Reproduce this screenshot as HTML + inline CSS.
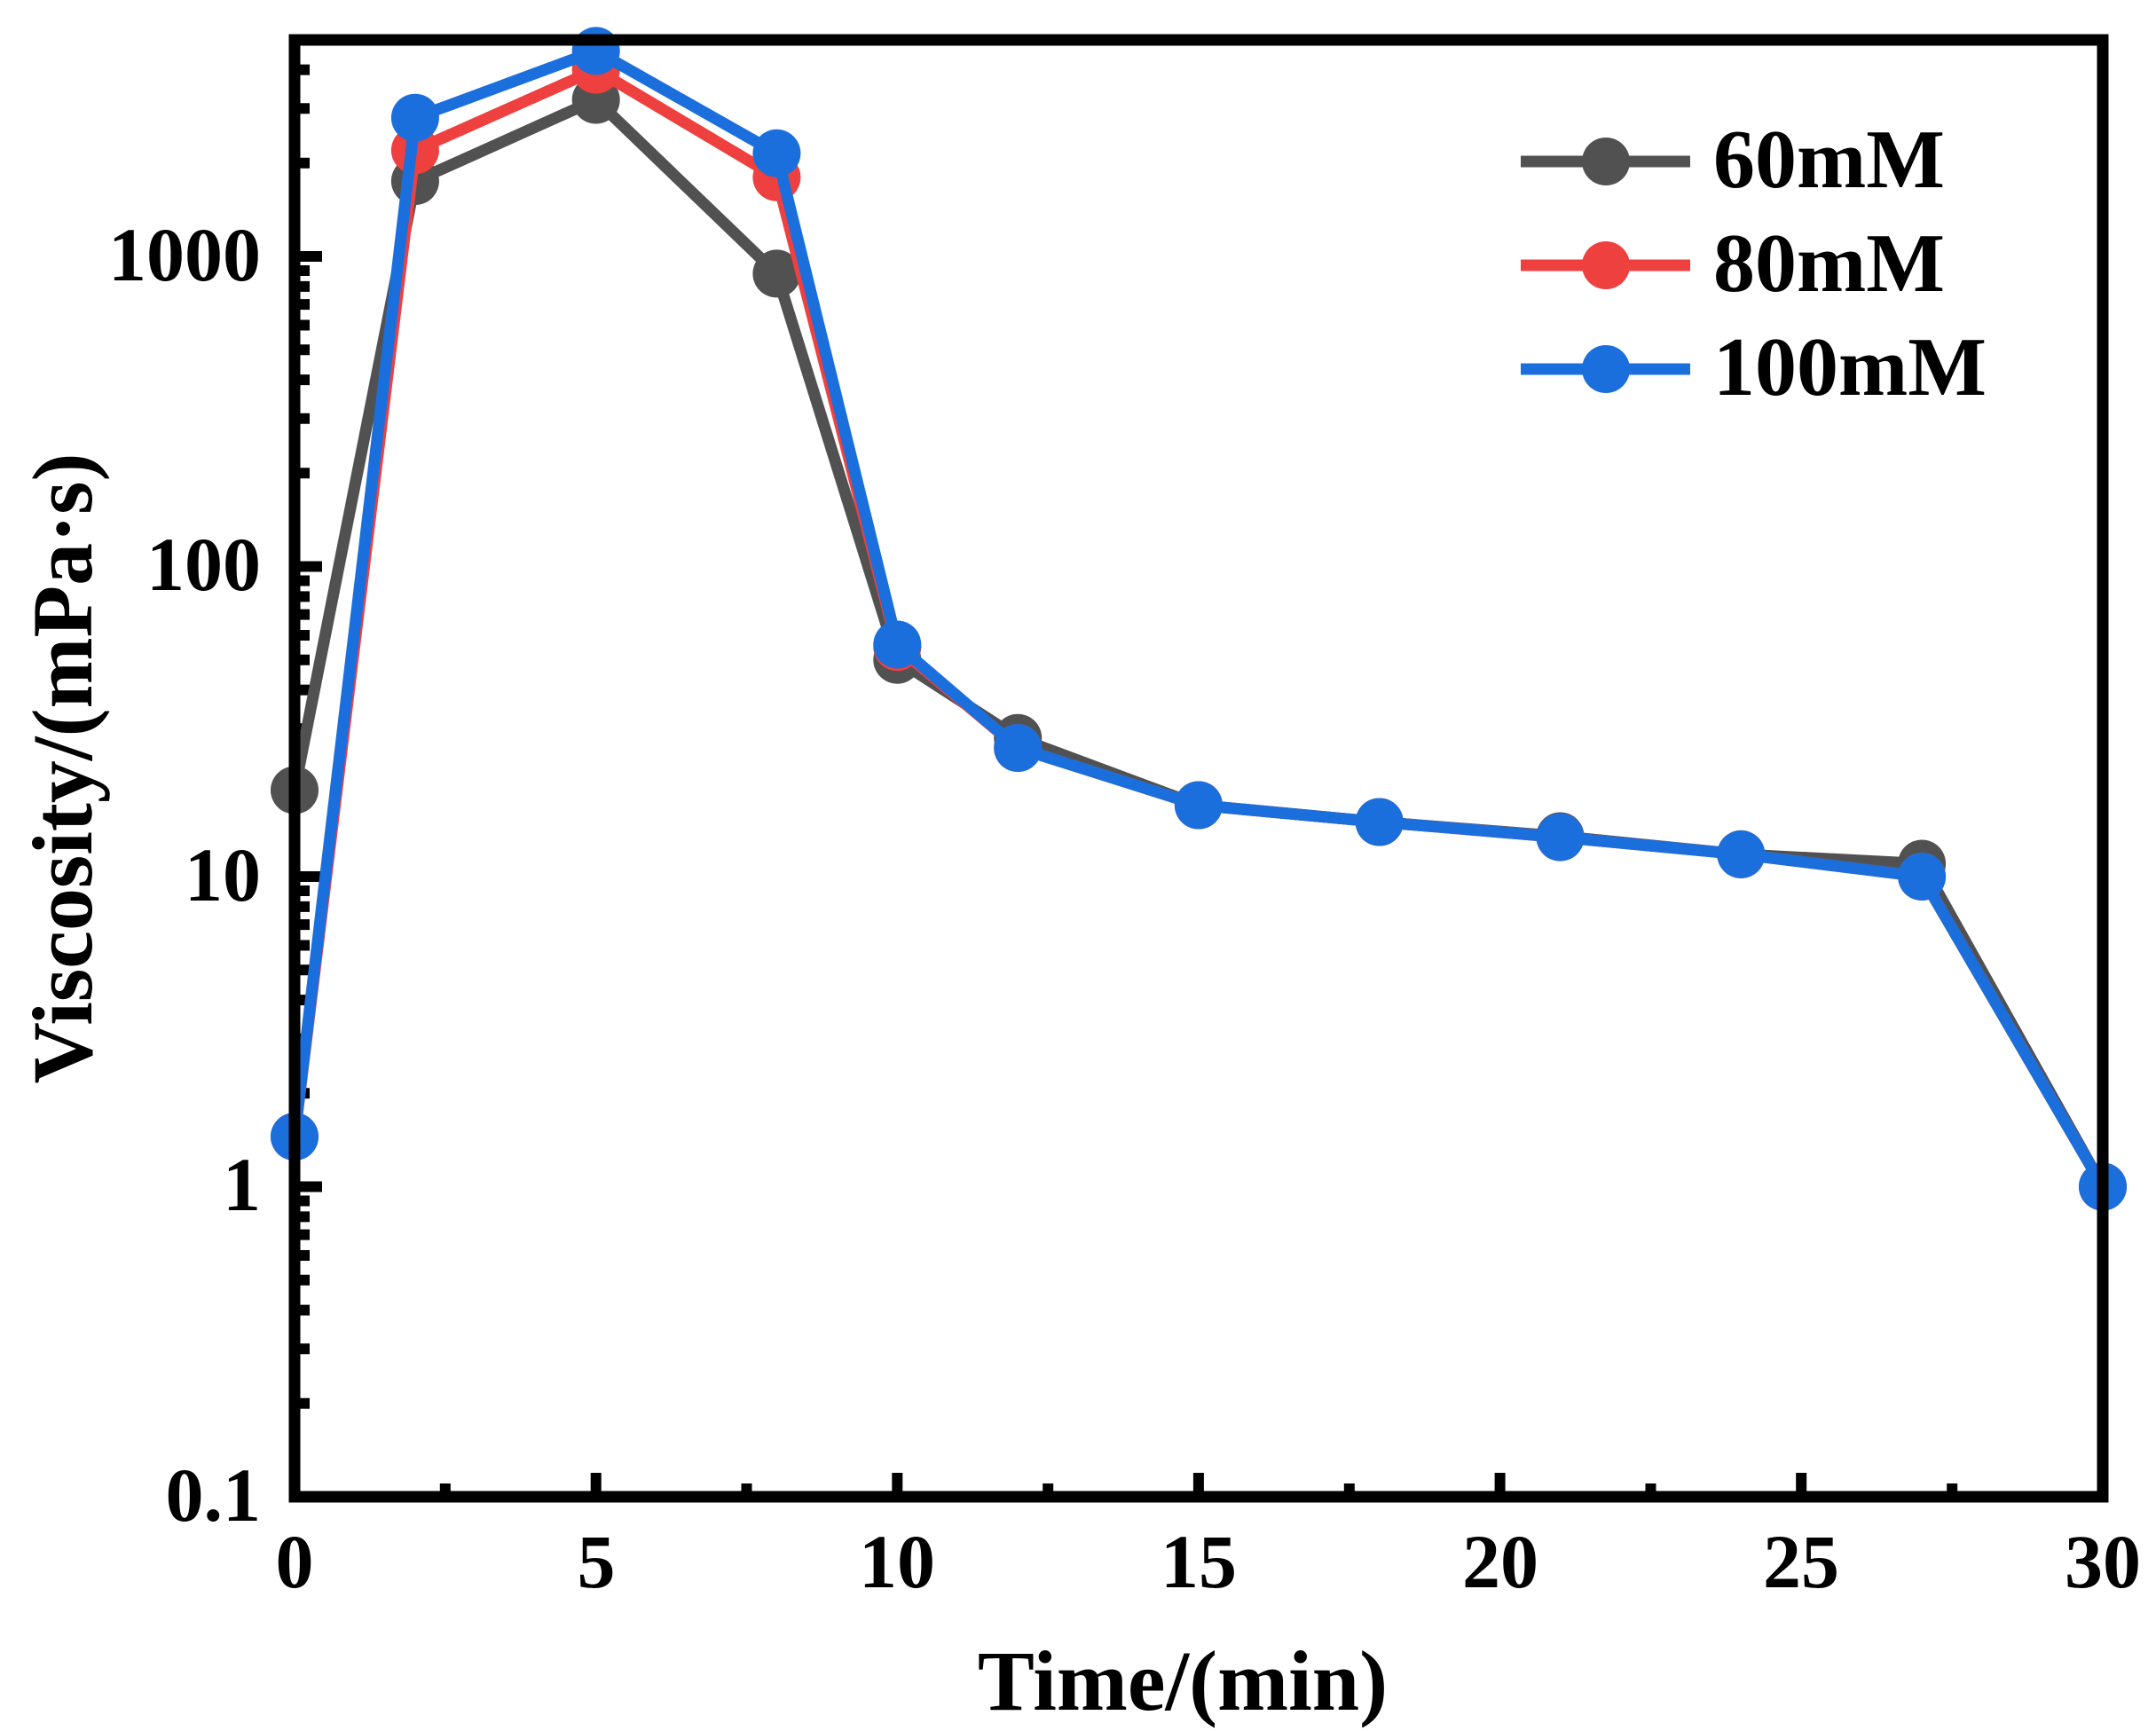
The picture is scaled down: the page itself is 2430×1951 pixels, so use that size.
<!DOCTYPE html>
<html><head><meta charset="utf-8"><style>html,body{margin:0;padding:0;background:#fff}svg{display:block}</style></head>
<body>
<svg width="2430" height="1951" viewBox="0 0 2430 1951" xmlns="http://www.w3.org/2000/svg" font-family="'Liberation Serif', serif" font-weight="bold">
<rect width="2430" height="1951" fill="#fff"/>
<g stroke="#000" stroke-width="12" fill="none">
<path d="M332 1581.8h17M332 1520.2h17M332 1476.6h17M332 1442.7h17M332 1415h17M332 1391.6h17M332 1371.4h17M332 1353.5h17
M332 1232.3h17M332 1170.7h17M332 1127.1h17M332 1093.2h17M332 1065.5h17M332 1042.1h17M332 1021.9h17M332 1004h17
M332 882.8h17M332 821.2h17M332 777.6h17M332 743.7h17M332 716h17M332 692.6h17M332 672.4h17M332 654.5h17
M332 533.3h17M332 471.7h17M332 428.1h17M332 394.2h17M332 366.5h17M332 343.1h17M332 322.9h17M332 305h17
M332 183.8h17M332 122.2h17M332 78.6h17"/>
<path d="M332 1337.5h31M332 988h31M332 638.5h31M332 289h31"/>
<path d="M501.8 1687v-15M841.5 1687v-15M1181.2 1687v-15M1520.8 1687v-15M1860.5 1687v-15M2200.2 1687v-15"/>
<path d="M671.7 1687v-27M1011.3 1687v-27M1350.9 1687v-27M1690.6 1687v-27M2030.2 1687v-27"/>
</g>
<g stroke-width="13" fill="none" stroke-linejoin="round">
<polyline stroke="#515151" points="332,890.6 467.9,204.1 671.7,112.5 875.4,308.4 1011.3,743.7 1147.2,831.7 1350.9,907.5 1554.7,926.5 1758.5,942.5 1962.3,962.9 2166.1,973.5 2370,1337.5"/>
</g>
<g fill="#515151">
<circle cx="332" cy="890.6" r="27"/><circle cx="467.9" cy="204.1" r="27"/><circle cx="671.7" cy="112.5" r="27"/><circle cx="875.4" cy="308.4" r="27"/><circle cx="1011.3" cy="743.7" r="27"/><circle cx="1147.2" cy="831.7" r="27"/><circle cx="1350.9" cy="907.5" r="27"/><circle cx="1554.7" cy="926.5" r="27"/><circle cx="1758.5" cy="942.5" r="27"/><circle cx="1962.3" cy="962.9" r="27"/><circle cx="2166.1" cy="973.5" r="27"/><circle cx="2370" cy="1337.5" r="27"/>
</g>
<polyline stroke="#EF4040" stroke-width="13" fill="none" stroke-linejoin="round" points="332,1281.1 467.9,169.3 671.7,78.6 875.4,199.8 1011.3,729.2 1147.2,843 1350.9,907.5 1554.7,926.5 1758.5,943.6 1962.3,962.9 2166.1,988 2370,1337.5"/>
<g fill="#EF4040">
<circle cx="332" cy="1281.1" r="27"/><circle cx="467.9" cy="169.3" r="27"/><circle cx="671.7" cy="78.6" r="27"/><circle cx="875.4" cy="199.8" r="27"/><circle cx="1011.3" cy="729.2" r="27"/><circle cx="1147.2" cy="843" r="27"/><circle cx="1350.9" cy="907.5" r="27"/><circle cx="1554.7" cy="926.5" r="27"/><circle cx="1758.5" cy="943.6" r="27"/><circle cx="1962.3" cy="962.9" r="27"/><circle cx="2166.1" cy="988" r="27"/><circle cx="2370" cy="1337.5" r="27"/>
</g>
<polyline stroke="#1B6FDC" stroke-width="13" fill="none" stroke-linejoin="round" points="332,1281.1 467.9,132.7 671.7,57.4 875.4,172.8 1011.3,726.5 1147.2,843 1350.9,907.5 1554.7,926.5 1758.5,943.6 1962.3,962.9 2166.1,988 2370,1337.5"/>
<g fill="#1B6FDC">
<circle cx="332" cy="1281.1" r="27"/><circle cx="467.9" cy="132.7" r="27"/><circle cx="671.7" cy="57.4" r="27"/><circle cx="875.4" cy="172.8" r="27"/><circle cx="1011.3" cy="726.5" r="27"/><circle cx="1147.2" cy="843" r="27"/><circle cx="1350.9" cy="907.5" r="27"/><circle cx="1554.7" cy="926.5" r="27"/><circle cx="1758.5" cy="943.6" r="27"/><circle cx="1962.3" cy="962.9" r="27"/><circle cx="2166.1" cy="988" r="27"/><circle cx="2370" cy="1337.5" r="27"/>
</g>
<rect x="332" y="45" width="2038" height="1642" fill="none" stroke="#000" stroke-width="13"/>
<g font-size="86" text-anchor="end">
<text x="294" y="316">1000</text>
<text x="294" y="665">100</text>
<text x="294" y="1015">10</text>
<text x="294" y="1364">1</text>
<text x="294" y="1714">0.1</text>
</g>
<g font-size="86" text-anchor="middle">
<text x="332" y="1789">0</text>
<text x="672" y="1789">5</text>
<text x="1011" y="1789">10</text>
<text x="1351" y="1789">15</text>
<text x="1691" y="1789">20</text>
<text x="2030" y="1789">25</text>
<text x="2370" y="1789">30</text>
</g>
<text x="1333" y="1927" font-size="96" text-anchor="middle">Time/(min)</text>
<text transform="translate(103,866) rotate(-90)" font-size="96" text-anchor="middle">Viscosity/(mPa·s)</text>
<g font-size="94">
<line x1="1714" y1="182" x2="1905" y2="182" stroke="#515151" stroke-width="13"/><circle cx="1810" cy="182" r="27" fill="#515151"/>
<text x="1931" y="211">60mM</text>
<line x1="1714" y1="299" x2="1905" y2="299" stroke="#EF4040" stroke-width="13"/><circle cx="1810" cy="299" r="27" fill="#EF4040"/>
<text x="1931" y="328">80mM</text>
<line x1="1714" y1="416" x2="1905" y2="416" stroke="#1B6FDC" stroke-width="13"/><circle cx="1810" cy="416" r="27" fill="#1B6FDC"/>
<text x="1931" y="445">100mM</text>
</g>
</svg>
</body></html>
